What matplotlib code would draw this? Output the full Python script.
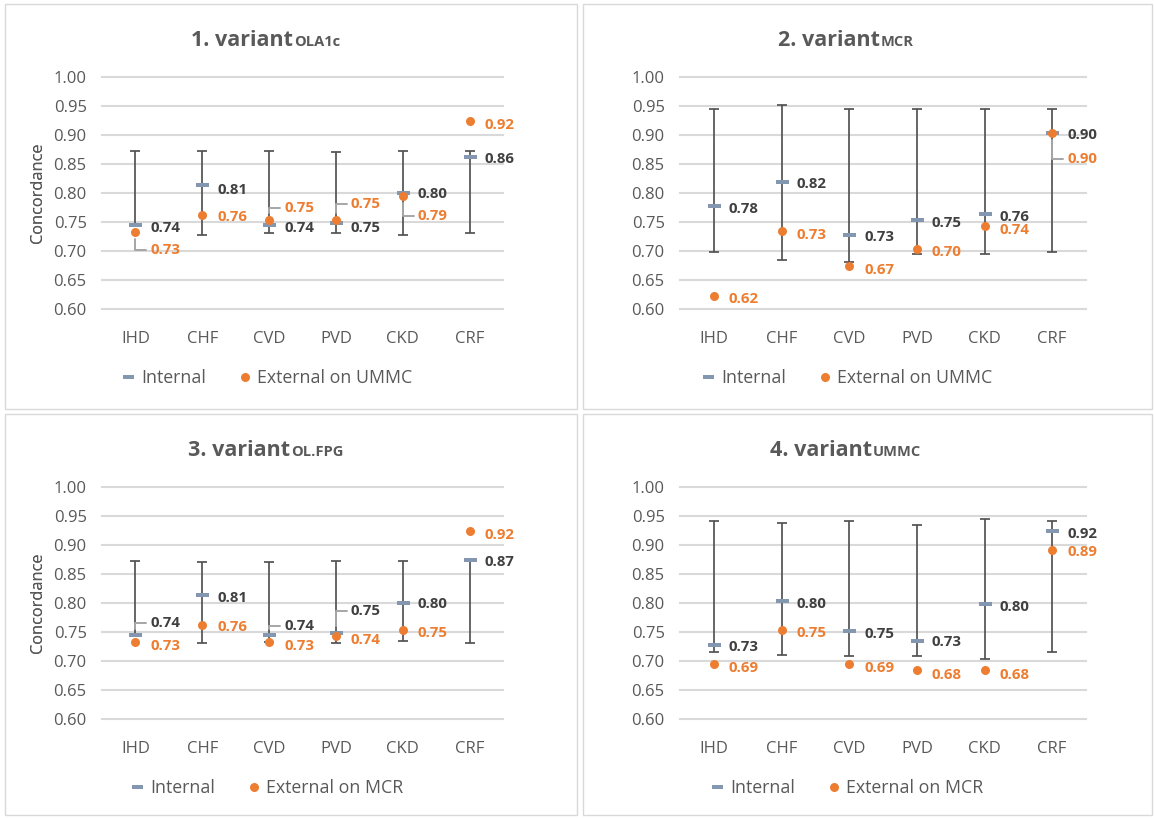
import matplotlib
matplotlib.use("Agg")
import matplotlib.pyplot as plt
from matplotlib.lines import Line2D
from matplotlib.patches import Rectangle

# ---------------- data ----------------
categories = ["IHD", "CHF", "CVD", "PVD", "CKD", "CRF"]
yticks = [0.60, 0.65, 0.70, 0.75, 0.80, 0.85, 0.90, 0.95, 1.00]

title_main = ["1. variant", "2. variant", "3. variant", "4. variant"]
title_sub = ["OLA1c", "MCR", "OL.FPG", "UMMC"]
ext_names = ["External on UMMC", "External on UMMC", "External on MCR", "External on MCR"]

internal_1 = [0.744, 0.814, 0.744, 0.749, 0.800, 0.862]
external_1 = [0.733, 0.762, 0.753, 0.753, 0.794, 0.924]
err_lo_1 = [0.743, 0.727, 0.731, 0.731, 0.727, 0.731]
err_hi_1 = [0.873, 0.873, 0.873, 0.870, 0.873, 0.873]

internal_2 = [0.778, 0.819, 0.728, 0.754, 0.764, 0.903]
external_2 = [0.623, 0.734, 0.674, 0.704, 0.743, 0.903]
err_lo_2 = [0.698, 0.685, 0.681, 0.694, 0.694, 0.698]
err_hi_2 = [0.945, 0.951, 0.945, 0.945, 0.945, 0.945]

internal_3 = [0.744, 0.814, 0.744, 0.749, 0.800, 0.874]
external_3 = [0.733, 0.762, 0.733, 0.743, 0.753, 0.924]
err_lo_3 = [0.743, 0.731, 0.733, 0.731, 0.735, 0.731]
err_hi_3 = [0.873, 0.870, 0.870, 0.873, 0.873, 0.873]

internal_4 = [0.728, 0.804, 0.752, 0.734, 0.799, 0.924]
external_4 = [0.694, 0.753, 0.694, 0.684, 0.684, 0.892]
err_lo_4 = [0.715, 0.710, 0.708, 0.708, 0.704, 0.715]
err_hi_4 = [0.942, 0.938, 0.942, 0.935, 0.945, 0.942]

internals = [internal_1, internal_2, internal_3, internal_4]
externals = [external_1, external_2, external_3, external_4]
err_los = [err_lo_1, err_lo_2, err_lo_3, err_lo_4]
err_his = [err_hi_1, err_hi_2, err_hi_3, err_hi_4]

# ---------------- layout (pixels, 1154 x 818) ----------------
W, H = 1154, 818
PX = 0.72  # points per pixel at dpi 100

# label vertical offsets in pixels (positive = down), per panel
lab_dy_int = [
    [3, 5, 3, 5, 1, 2],
    [3, 2, 2, 3, 3, 2],
    [-12, 3, -9, -22, 1, 2],
    [2, 3, 3, 1, 3, 3],
]
lab_dy_ext = [
    [18, 2, -12, -16, 20, 4],
    [3, 4, 4, 3, 4, 26],
    [4, 2, 4, 4, 3, 4],
    [4, 3, 4, 5, 5, 2],
]
leader_threshold = 8  # draw a leader line when |dy| exceeds this

panel_boxes = [(5, 4, 577, 409), (583, 4, 1152, 409), (5, 414, 577, 815), (583, 414, 1152, 815)]
axes_px = [(102, 77, 503, 309), (680, 77, 1086, 309), (102, 487, 503, 719), (680, 487, 1086, 719)]
title_center_x = [265, 845, 265, 845]
title_base_y = [46, 46, 456, 456]
legend_center = [(267, 378), (847, 378), (267, 788), (847, 788)]

GRAY_TXT = "#595959"
DARK_LBL = "#404040"
ORANGE = "#ED7D31"
BLUEGRAY = "#8497B0"
GRID = "#D9D9D9"
FONT = ["Open Sans", "DejaVu Sans"]

plt.rcParams["font.family"] = FONT

fig = plt.figure(figsize=(W / 100, H / 100), dpi=100)
fig.patch.set_facecolor("white")

for (x0, y0, x1, y1) in panel_boxes:
    fig.patches.append(Rectangle((x0 / W, 1 - y1 / H), (x1 - x0) / W, (y1 - y0) / H,
                                 transform=fig.transFigure, fill=False,
                                 edgecolor=GRID, lw=1.0))

renderer = fig.canvas.get_renderer()
x = list(range(len(categories)))

for p in range(4):
    l, t, r, b = axes_px[p]
    ax = fig.add_axes([l / W, 1 - b / H, (r - l) / W, (b - t) / H])
    ax.set_xlim(-0.5, len(categories) - 0.5)
    ax.set_ylim(0.60, 1.00)
    for s in ax.spines.values():
        s.set_visible(False)
    for yv in yticks:
        ax.axhline(yv, color=GRID, lw=1.5, zorder=0, clip_on=False)
    ax.set_yticks(yticks)
    ax.set_yticklabels([f"{v:.2f}" for v in yticks])
    ax.set_xticks(x)
    ax.set_xticklabels(categories)
    ax.tick_params(axis="y", length=0, pad=11, labelsize=12, labelcolor=GRAY_TXT)
    ax.tick_params(axis="x", length=0, pad=16, labelsize=12, labelcolor=GRAY_TXT)
    ax.set_ylabel("Concordance", fontsize=11.8, color=GRAY_TXT)
    ax.yaxis.set_label_coords(-(l - 46) / (r - l), 0.5)

    inte = internals[p]
    ext = externals[p]
    lo = err_los[p]
    hi = err_his[p]
    yerr = [[max(0.0, v - a) for v, a in zip(inte, lo)],
            [max(0.0, c - v) for v, c in zip(inte, hi)]]
    ax.errorbar(x, inte, yerr=yerr, fmt="none", ecolor="#505050", elinewidth=1.7 * PX,
                capsize=3.8, capthick=1.7 * PX, zorder=2)
    ax.plot(x, inte, linestyle="none", marker="_", markersize=13 * PX,
            markeredgewidth=4 * PX, color=BLUEGRAY, zorder=3)
    ax.plot(x, ext, linestyle="none", marker="o", markersize=9 * PX,
            markeredgewidth=0, color=ORANGE, zorder=4)

    for i in x:
        for val, dy, col in ((inte[i], lab_dy_int[p][i], DARK_LBL),
                             (ext[i], lab_dy_ext[p][i], ORANGE)):
            dx_pt = 30 * PX
            dy_pt = -dy * PX
            kw = {}
            if abs(dy) > leader_threshold:
                kw["arrowprops"] = dict(arrowstyle="-", color="#A6A6A6", lw=1.4,
                                        shrinkA=1, shrinkB=5, relpos=(0, 0.5),
                                        connectionstyle="angle,angleA=0,angleB=90,rad=0")
            ax.annotate(f"{val:.2f}", xy=(i, val), xytext=(dx_pt, dy_pt),
                        textcoords="offset points", ha="center", va="center",
                        fontsize=10.8, fontweight="bold", color=col,
                        zorder=5, annotation_clip=False, **kw)

    # title: main + small suffix on the same baseline
    tm = fig.text(0, 0, title_main[p], fontsize=15.5, fontweight="bold",
                  color=GRAY_TXT, va="baseline", ha="left")
    ts = fig.text(0, 0, title_sub[p], fontsize=10.5, fontweight="bold",
                  color=GRAY_TXT, va="baseline", ha="left")
    wm = tm.get_window_extent(renderer).width
    ws = ts.get_window_extent(renderer).width
    start = title_center_x[p] - (wm + ws) / 2
    yb = 1 - title_base_y[p] / H
    tm.set_position((start / W, yb))
    ts.set_position(((start + wm + 1) / W, yb))

    handles = [Line2D([], [], linestyle="none", marker="_", markersize=11 * PX,
                      markeredgewidth=4 * PX, color=BLUEGRAY),
               Line2D([], [], linestyle="none", marker="o", markersize=9 * PX,
                      markeredgewidth=0, color=ORANGE)]
    lx, ly = legend_center[p]
    fig.legend(handles, ["Internal", ext_names[p]], loc="center",
               bbox_to_anchor=(lx / W, 1 - ly / H), ncol=2, frameon=False,
               fontsize=12.8, labelcolor=GRAY_TXT, handlelength=0.8,
               handletextpad=0.3, columnspacing=1.8)

fig.savefig("out.png", dpi=100, facecolor="white")
